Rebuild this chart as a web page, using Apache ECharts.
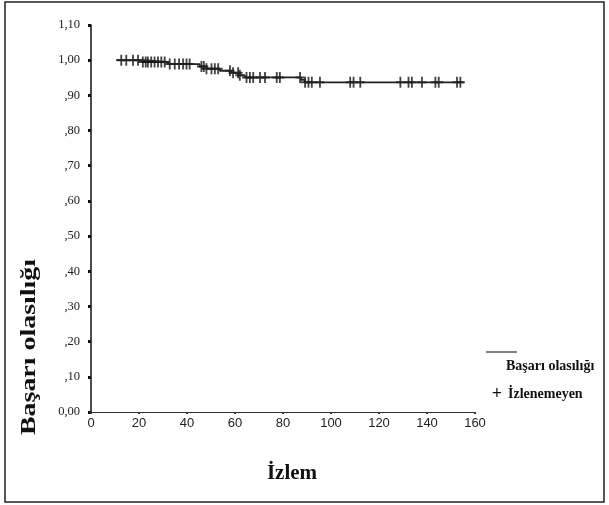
<!DOCTYPE html>
<html>
<head>
<meta charset="utf-8">
<script src="https://cdn.jsdelivr.net/npm/echarts@6/dist/echarts.min.js"></script>
<style>
  html, body { margin: 0; padding: 0; background: #fff; }
  #main { width: 609px; height: 505px; }
</style>
</head>
<body>
<div id="main"></div>
<script>
// Kaplan-Meier basamaklari (zaman, basari olasiligi)
const stepTimes = [10.5, 21.6, 32.1, 45.3, 48.1, 53.7, 58.5, 62, 64.1, 87.5, 89.2, 155.3];
const stepSurv = [1.000, 0.995, 0.989, 0.982, 0.976, 0.970, 0.964, 0.957, 0.951, 0.944, 0.937, 0.937];

// izlenemeyen (sansurlu) gozlemlerin zamanlari
const censorTimes = [12.6, 14.7, 17.5, 19.6, 21.6, 22.8, 23.7, 25.1, 26.5, 27.9, 29.3, 30.7,
  32.8, 34.9, 36.7, 38.4, 39.8, 41.1, 46, 47, 48.1, 50.2, 51.6, 53, 57.9, 59.2, 61.3, 62,
  64.8, 66.2, 67.6, 70.4, 72.5, 77.4, 78.7, 87.1, 89.2, 90.6, 92, 95.4, 108, 109.4, 112.2,
  128.9, 132.3, 133.7, 137.9, 143.5, 144.9, 152.5, 153.9];

const xTicks = [0, 20, 40, 60, 80, 100, 120, 140, 160];
const yLabels = { '0': '0,00', '0.1': ',10', '0.2': ',20', '0.3': ',30', '0.4': ',40', '0.5': ',50',
  '0.6': ',60', '0.7': ',70', '0.8': ',80', '0.9': ',90', '1': '1,00', '1.1': '1,10' };

const survAt = (t) => {
  let v = stepSurv[0];
  for (let i = 0; i < stepTimes.length; i++) {
    if (stepTimes[i] <= t) v = stepSurv[i];
  }
  return v;
};

const lineData = stepTimes.map((t, i) => [t, stepSurv[i]]);
const censorData = censorTimes.map(t => [t, survAt(t)]);

// arti isareti: dikey ve yatay cubuk
const plus = 'path://M4,0h2v4.5h4v2h-4v4.5h-2v-4.5h-4v-2h4z';
const serif = '"Liberation Serif", "DejaVu Serif", serif';

const chart = echarts.init(document.getElementById('main'));
const option = {
  backgroundColor: '#fff',
  animation: false,
  grid: { left: 91, right: 134, top: 25, bottom: 93 },
  xAxis: {
    type: 'value',
    min: 0, max: 160, interval: 20,
    axisLine: { lineStyle: { color: '#333', width: 1.2 } },
    axisTick: { show: true, length: 2, lineStyle: { color: '#333', width: 2 } },
    splitLine: { show: false },
    axisLabel: {
      color: '#222', fontFamily: '"Liberation Sans", Arial, sans-serif', fontSize: 13, margin: 5,
      formatter: (v) => xTicks.includes(v) ? String(v) : ''
    }
  },
  yAxis: {
    type: 'value',
    min: 0, max: 1.1, interval: 0.1,
    axisLine: { show: true, lineStyle: { color: '#111', width: 1.5 } },
    axisTick: { show: true, length: 3, lineStyle: { color: '#111', width: 3 } },
    splitLine: { show: false },
    axisLabel: {
      color: '#222', fontFamily: serif, fontSize: 12.5, margin: 11,
      formatter: (v) => yLabels[String(Math.round(v * 10) / 10)]
    }
  },
  series: [
    {
      name: 'Başarı olasılığı',
      type: 'line',
      step: 'end',
      data: lineData,
      showSymbol: false,
      lineStyle: { color: '#222', width: 1.8 }
    },
    {
      name: 'İzlenemeyen',
      type: 'scatter',
      data: censorData,
      symbol: plus,
      symbolSize: [9, 11],
      itemStyle: { color: '#111' }
    }
  ],
  graphic: [
    { type: 'rect', shape: { x: 5, y: 2, width: 599, height: 500 },
      style: { fill: 'none', stroke: '#222', lineWidth: 1.5 } },
    { type: 'text', x: 30, y: 347, rotation: Math.PI / 2, scaleX: 1.33,
      style: { text: 'Başarı olasılığı', font: 'bold 21px ' + serif, fill: '#111',
        align: 'center', verticalAlign: 'middle' } },
    { type: 'text', x: 292, y: 474,
      style: { text: 'İzlem', font: 'bold 21px ' + serif, fill: '#111',
        align: 'center', verticalAlign: 'middle' } },
    { type: 'line', shape: { x1: 486, y1: 352, x2: 517, y2: 352 },
      style: { stroke: '#333', lineWidth: 1.2 } },
    { type: 'text', x: 506, y: 366,
      style: { text: 'Başarı olasılığı', font: 'bold 14px ' + serif, fill: '#111',
        verticalAlign: 'middle' } },
    { type: 'text', x: 497, y: 394,
      style: { text: '+', font: 'bold 18px ' + serif, fill: '#111',
        align: 'center', verticalAlign: 'middle' } },
    { type: 'text', x: 508, y: 394,
      style: { text: 'İzlenemeyen', font: 'bold 14px ' + serif, fill: '#111',
        verticalAlign: 'middle' } }
  ]
};
chart.setOption(option);
</script>
</body>
</html>
